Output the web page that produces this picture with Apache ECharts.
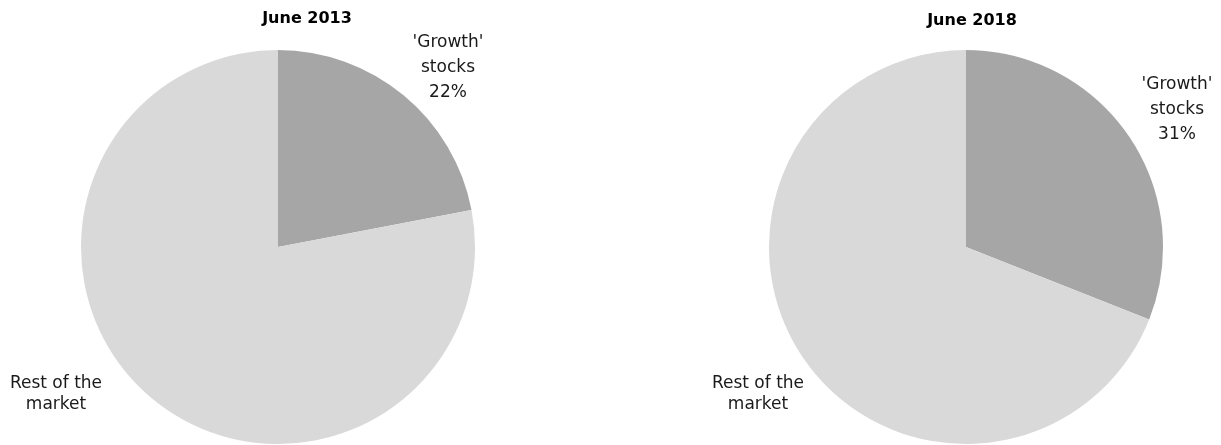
<!DOCTYPE html>
<html>
<head>
<meta charset="utf-8">
<script src="https://cdn.jsdelivr.net/npm/echarts@6/dist/echarts.min.js"></script>
<style>
  html, body { margin: 0; padding: 0; background: #ffffff; }
  #chart { width: 1221px; height: 445px; }
</style>
</head>
<body>
<div id="chart"></div>
<script>
// Market share of 'Growth' stocks versus the rest of the market
const categories = ["'Growth' stocks", "Rest of the market"];
const periods = ["June 2013", "June 2018"];
const shares2013 = [22, 78];
const shares2018 = [31, 69];

const sliceColors = ['#a6a6a6', '#d9d9d9'];
const FONT = 'DejaVu Sans';

// pixel layout of each pie: centre, title and label anchors
const pies = [
  { center: [278, 247], title: [302, 14], labels: [[448, 68], [56, 394]] },
  { center: [966, 247], title: [967, 16], labels: [[1177, 110], [758, 394]] }
];
const R = 197;

function labelText(params) {
  if (params.dataIndex === 0) {
    return "'Growth'\nstocks\n" + params.value + '%';
  }
  return 'Rest of the\nmarket';
}

function makeSeries(values, idx) {
  const p = pies[idx];
  return {
    type: 'pie',
    center: p.center,
    radius: R,
    startAngle: 90,
    clockwise: true,
    silent: true,
    animation: false,
    itemStyle: { borderWidth: 0 },
    label: {
      show: true,
      position: 'inside',
      formatter: labelText,
      fontFamily: FONT,
      fontSize: 17,
      color: '#1a1a1a',
      lineHeight: 25
    },
    labelLine: { show: false },
    labelLayout: function (params) {
      const xy = p.labels[params.dataIndex];
      return { x: xy[0], y: xy[1], align: 'center', verticalAlign: 'middle' };
    },
    data: categories.map((name, i) => ({
      name: name,
      value: values[i],
      itemStyle: { color: sliceColors[i] },
      label: i === 1 ? { lineHeight: 21 } : {}
    }))
  };
}

const chart = echarts.init(document.getElementById('chart'), null, { renderer: 'canvas' });
chart.setOption({
  animation: false,
  backgroundColor: '#ffffff',
  title: periods.map((t, i) => ({
    text: t,
    left: pies[i].title[0],
    top: pies[i].title[1],
    textAlign: 'center',
    textVerticalAlign: 'middle',
    textStyle: { fontFamily: FONT, fontSize: 16, fontWeight: 'bold', color: '#000000' }
  })),
  series: [makeSeries(shares2013, 0), makeSeries(shares2018, 1)]
});
</script>
</body>
</html>
